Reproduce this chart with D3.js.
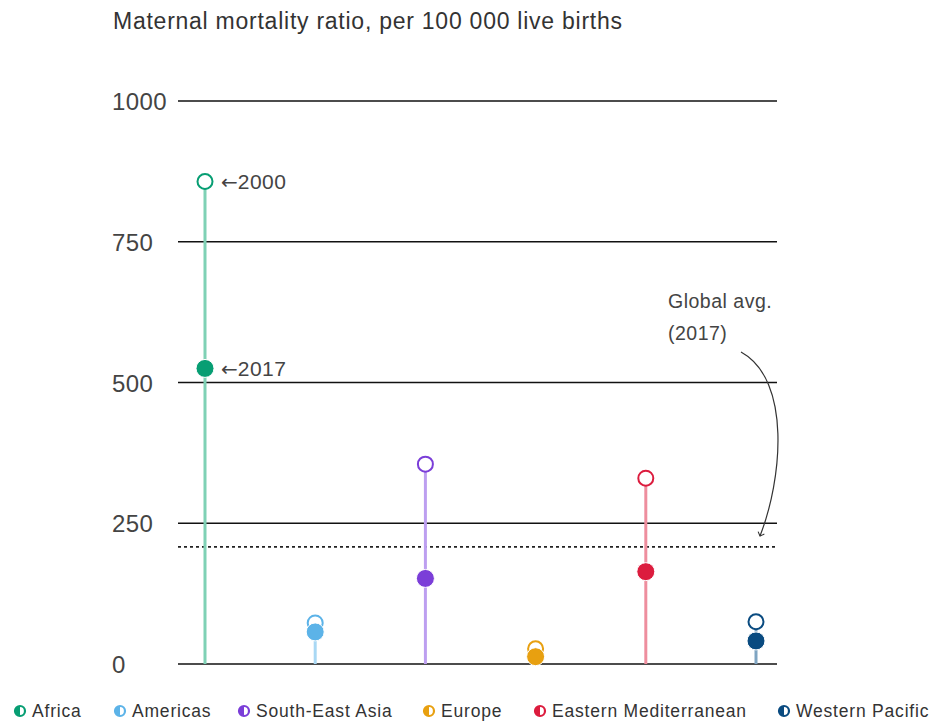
<!DOCTYPE html>
<html><head><meta charset="utf-8">
<script src="https://cdn.jsdelivr.net/npm/d3@7"></script>
<style>body{margin:0;background:#fff;font-family:"Liberation Sans",Arial,sans-serif}</style>
</head><body>
<svg id="c" width="933" height="724" font-family="Liberation Sans, Arial, sans-serif"></svg>
<script>
const regions = ["Africa","Americas","South-East Asia","Europe","Eastern Mediterranean","Western Pacific"];
const mmr2000 = [857, 73, 355, 27, 330, 75];
const mmr2017 = [525, 57, 152, 13, 164, 41];
const colors = ["#079e73","#5cb3e8","#7b3ed8","#e8a010","#dc1c3e","#0a4b80"];
const lightColors = ["#7fd1b5","#a9d8f4","#bd9ff0","#f3cf87","#ee8e9e","#7fa5c2"];
const yTicks = [0,250,500,750,1000];
const globalAvg = 208;

const svg = d3.select("#c");
const y = d3.scaleLinear().domain([0,1000]).range([664,101]);
const x = d3.scalePoint().domain(regions).range([205,756]);

svg.append("text").attr("x",113).attr("y",29).attr("font-size",23).attr("letter-spacing",0.75).attr("fill","#333")
  .text("Maternal mortality ratio, per 100 000 live births");

const yAxis = d3.axisLeft(y).tickValues(yTicks).tickSize(0).tickPadding(0).tickFormat(d3.format("d"));
const ga = svg.append("g").attr("transform","translate(112,0)").call(yAxis);
ga.select(".domain").remove();
ga.selectAll("text").attr("font-size",24).attr("letter-spacing",0.4).attr("fill","#444").attr("font-family","Liberation Sans, Arial, sans-serif")
  .attr("text-anchor","start").attr("x",0).attr("dy","0.36em");

svg.append("g").selectAll("line").data(yTicks).join("line")
  .attr("x1",178).attr("x2",777).attr("y1",d=>y(d)).attr("y2",d=>y(d))
  .attr("stroke","#111").attr("stroke-width",1.6);

svg.append("line").attr("x1",178).attr("x2",777).attr("y1",y(globalAvg)).attr("y2",y(globalAvg))
  .attr("stroke","#222").attr("stroke-width",1.6).attr("stroke-dasharray","3,3");

const data = regions.map((r,i)=>({r,a:mmr2000[i],b:mmr2017[i],c:colors[i],l:lightColors[i]}));
svg.append("g").selectAll("line").data(data).join("line")
  .attr("x1",d=>x(d.r)).attr("x2",d=>x(d.r)).attr("y1",d=>y(d.a)).attr("y2",y(0))
  .attr("stroke",d=>d.l).attr("stroke-width",3);
svg.append("g").selectAll("circle").data(data).join("circle")
  .attr("cx",d=>x(d.r)).attr("cy",d=>y(d.a)).attr("r",7.5)
  .attr("fill","#fff").attr("stroke",d=>d.c).attr("stroke-width",2);
svg.append("g").selectAll("circle").data(data).join("circle")
  .attr("cx",d=>x(d.r)).attr("cy",d=>y(d.b)).attr("r",9)
  .attr("fill",d=>d.c).attr("stroke","#fff").attr("stroke-width",1);

function yearLabel(v, t){
  const tx = svg.append("text").attr("x",221).attr("y",y(v)).attr("dy","0.36em").attr("font-size",21).attr("fill","#444");
  tx.append("tspan").attr("font-family","DejaVu Sans").attr("font-size",20).text("\u2190");
  tx.append("tspan").attr("letter-spacing",0.5).text(t);
}
yearLabel(mmr2000[0],"2000");
yearLabel(mmr2017[0],"2017");

svg.append("text").attr("x",668).attr("y",308).attr("font-size",19.5).attr("letter-spacing",0.5).attr("fill","#444").text("Global avg.");
svg.append("text").attr("x",668).attr("y",340).attr("font-size",19.5).attr("letter-spacing",0.5).attr("fill","#444").text("(2017)");
svg.append("defs").append("marker").attr("id","ah").attr("viewBox","0 0 10 10").attr("refX",5).attr("refY",5)
  .attr("markerWidth",7).attr("markerHeight",7).attr("orient","auto-start-reverse")
  .append("path").attr("d","M1,1 L5,5 L1,9").attr("fill","none").attr("stroke","#333").attr("stroke-width",1.3);
svg.append("path").attr("d","M741,352 C792,380 782,480 760,536").attr("fill","none")
  .attr("stroke","#333").attr("stroke-width",1.2).attr("marker-end","url(#ah)");

const legX = [20,120,244,429,540,784];
const lg = svg.append("g").selectAll("g").data(data).join("g")
  .attr("transform",(d,i)=>`translate(${legX[i]},711)`);
lg.append("circle").attr("r",5).attr("fill","#fff").attr("stroke",d=>d.c).attr("stroke-width",2.2);
lg.append("path").attr("d","M0,-5 A5,5 0 0 0 0,5 Z").attr("fill",d=>d.c);
lg.append("text").attr("x",12).attr("dy","0.35em").attr("font-size",17.5).attr("letter-spacing",0.8).attr("fill","#333").text(d=>d.r);
</script>
</body></html>
